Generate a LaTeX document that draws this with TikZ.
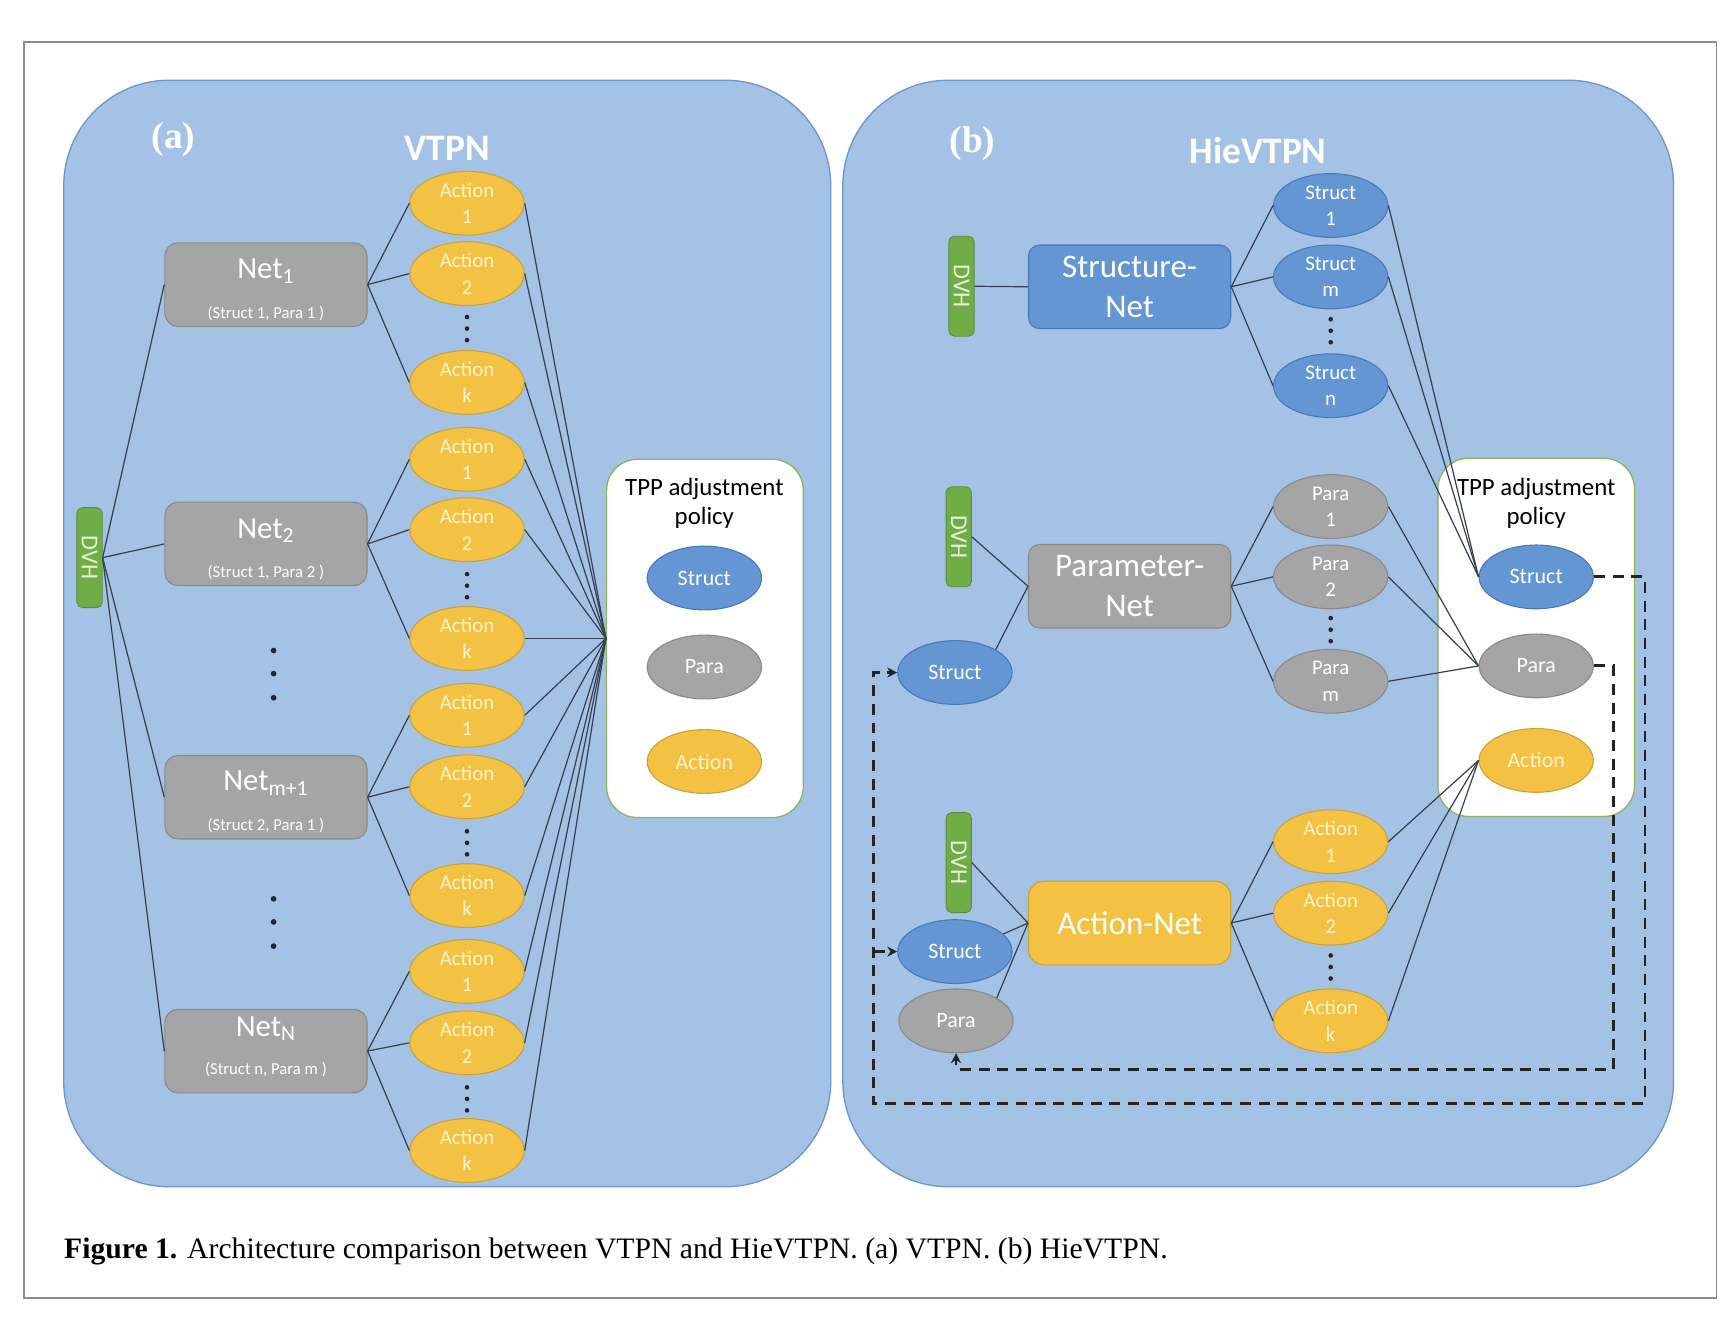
\documentclass[tikz,border=0pt]{standalone}
\usepackage{fontspec}
\setmainfont{Carlito}
\newfontfamily\capfont{Liberation Serif}
\usetikzlibrary{shapes.geometric,arrows.meta}
\definecolor{panelfill}{HTML}{A4C2E5}
\definecolor{paneldraw}{HTML}{6F96C8}
\definecolor{yelfill}{HTML}{F4C242}
\definecolor{yeldraw}{HTML}{C9A23A}
\definecolor{bluefill}{HTML}{6496D3}
\definecolor{bluedraw}{HTML}{4A7AB5}
\definecolor{grayfill}{HTML}{A5A5A5}
\definecolor{graydraw}{HTML}{8A8A8A}
\definecolor{grnfill}{HTML}{70AD47}
\definecolor{grndraw}{HTML}{5A8F38}
\definecolor{grntext}{HTML}{E6F2DC}
\definecolor{tppdraw}{HTML}{8DB55E}
\definecolor{linec}{HTML}{36404E}
\definecolor{dashc}{HTML}{232323}
\definecolor{framec}{HTML}{8C8C8C}
\definecolor{yeltext}{HTML}{FFF3CF}
\tikzset{
  ell/.style={ellipse, minimum width=52pt, minimum height=29pt, inner sep=0pt, line width=0.5pt, align=center, font=\fontsize{9.5}{12}\selectfont},
  yel/.style={ell, fill=yelfill, draw=yeldraw, text=yeltext},
  blu/.style={ell, fill=bluefill, draw=bluedraw, text=white},
  gry/.style={ell, fill=grayfill, draw=graydraw, text=white},
  big/.style={font=\fontsize{10}{12}\selectfont},
  netbox/.style={rectangle, rounded corners=6pt, minimum width=92pt, minimum height=38pt, fill=grayfill, draw=graydraw, line width=0.5pt},
  nettitle/.style={text=white, font=\fontsize{14}{16}\selectfont, inner sep=0pt},
  netsub/.style={text=white, font=\fontsize{7.6}{9}\selectfont, inner sep=0pt},
  bigbox/.style={rectangle, rounded corners=5pt, minimum width=92pt, minimum height=38pt, line width=0.5pt, text=white, align=center, font=\fontsize{15}{18}\selectfont},
  dvh/.style={rectangle, rotate=-90, rounded corners=2.5pt, minimum width=45.5pt, minimum height=11.5pt, inner sep=0pt, fill=grnfill, draw=grndraw, text=grntext, font=\fontsize{11}{12}\selectfont},
  panel/.style={rectangle, rounded corners=48pt, fill=panelfill, draw=paneldraw, line width=0.6pt},
  tppbox/.style={rectangle, rounded corners=14pt, fill=white, draw=tppdraw, line width=0.6pt, minimum width=89.5pt, minimum height=163pt},
  tpptitle/.style={align=center, font=\fontsize{11.3}{13.5}\selectfont, text=black},
  conn/.style={draw=linec, line width=0.55pt},
  fb/.style={draw=dashc, line width=1.3pt, dash pattern=on 5pt off 3.5pt},
  fbarrow/.style={fb, -{Stealth[length=4.5pt,width=4.5pt]}},
  ptitle/.style={text=white, font=\bfseries\fontsize{17}{19}\selectfont},
  plabel/.style={text=white, font=\capfont\bfseries\fontsize{17}{19}\selectfont},
}
\begin{document}
\begin{tikzpicture}[x=0.5pt,y=-0.5pt]
\useasboundingbox (0,0) rectangle (1568,1198);
\fill[white] (0,0) rectangle (1568,1198);
\draw[framec, line width=0.8pt] (22,38) rectangle (1562,1181);

% panels
\node[panel, minimum width=349pt, minimum height=503.5pt] (panA) at (407,576.5) {};
\node[panel, minimum width=378pt, minimum height=503.5pt] (panB) at (1145,576.5) {};
\node[plabel] (la) at (158,127) {(a)};
\node[ptitle] (ta) at (407,135) {VTPN};
\node[plabel] (lb) at (885,131) {(b)};
\node[ptitle] (tb) at (1145,137) {HieVTPN};

% ---------- panel (a) ----------
\node[dvh] (dvha) at (81.5,507.5) {DVH};
\node[netbox] (net1) at (242,259) {};
\node[nettitle] (net1t) at (242,247) {Net\textsubscript{1}};
\node[netsub] (net1s) at (242,285) {(Struct 1, Para 1 )};
\node[netbox] (net2) at (242,495) {};
\node[nettitle] (net2t) at (242,483) {Net\textsubscript{2}};
\node[netsub] (net2s) at (242,521) {(Struct 1, Para 2 )};
\node[netbox] (net3) at (242,725.5) {};
\node[nettitle] (net3t) at (242,713) {Net\textsubscript{m+1}};
\node[netsub] (net3s) at (242,751) {(Struct 2, Para 1 )};
\node[netbox] (net4) at (242,956.5) {};
\node[nettitle] (net4t) at (242,936) {Net\textsubscript{N}};
\node[netsub] (net4s) at (242,973) {(Struct n, Para m )};

\foreach \y in {592,613,635,818,839,861} \fill[black!85] (249,\y) circle (1.3pt);

\node[tppbox] (tppa) at (641.5,581) {};
\node[tpptitle] (tppat) at (641,458) {TPP adjustment\\policy};
\node[blu, big] (tas) at (641,526) {Struct};
\node[gry, big] (tap) at (641,607) {Para};
\node[yel, big] (taa) at (641,693) {Action};

\foreach \g/\ya/\yb/\yk/\yd in {1/185/249/348/299, 2/418/482/581/533, 3/651/716/815/767, 4/884/949/1047/1000}{
  \node[yel] (a\g-1) at (425,\ya) {Action\\1};
  \node[yel] (a\g-2) at (425,\yb) {Action\\2};
  \node[yel] (a\g-k) at (425,\yk) {Action\\k};
  \foreach \d in {-10.5,0,10.5} \fill[black!85] (425,\yd+\d) circle (1.05pt);
  \draw[conn] (dvha.north) -- (net\g.west);
  \foreach \s in {1,2,k}{
    \draw[conn] (net\g.east) -- (a\g-\s.west);
    \draw[conn] (a\g-\s.east) -- (tppa.west);
  }
}

% ---------- panel (b) ----------
\node[dvh] (dvh1) at (875,260.5) {DVH};
\node[dvh] (dvh2) at (872.5,488.5) {DVH};
\node[dvh] (dvh3) at (872.5,785) {DVH};
\node[bigbox, fill=bluefill, draw=bluedraw] (snet) at (1028,261) {Structure-\\Net};
\node[bigbox, fill=grayfill, draw=graydraw] (pnet) at (1028,533.5) {Parameter-\\Net};
\node[bigbox, fill=yelfill, draw=yeldraw, rounded corners=7pt] (anet) at (1028,840) {Action-Net};

\node[blu, big] (structP) at (869,612) {Struct};
\node[blu, big] (structA) at (869,866) {Struct};
\node[gry, big] (paraA) at (870,929) {Para};

\node[tppbox] (tppb) at (1398,580) {};
\node[tpptitle] (tppbt) at (1398,458) {TPP adjustment\\policy};
\node[blu, big] (tS) at (1398,525) {Struct};
\node[gry, big] (tP) at (1398,606) {Para};
\node[yel, big] (tA) at (1398,692) {Action};

\node[blu] (s1) at (1211,187) {Struct\\1};
\node[blu] (sm) at (1211,252) {Struct\\m};
\node[blu] (sn) at (1211,351) {Struct\\n};
\node[gry] (p1) at (1211,461) {Para\\1};
\node[gry] (p2) at (1211,525) {Para\\2};
\node[gry] (pm) at (1211,620) {Para\\m};
\node[yel] (b1) at (1211,766) {Action\\1};
\node[yel] (b2) at (1211,831) {Action\\2};
\node[yel] (bk) at (1211,929) {Action\\k};
\foreach \yd in {301,573,880} \foreach \d in {-10.5,0,10.5} \fill[black!85] (1211,\yd+\d) circle (1.05pt);

\draw[conn] (dvh1.north) -- (snet.west);
\draw[conn] (dvh2.north) -- (pnet.west);
\draw[conn] (structP.north east) -- (pnet.west);
\draw[conn] (dvh3.north) -- (anet.west);
\draw[conn] (structA.20) -- (anet.west);
\draw[conn] (paraA.north east) -- (anet.west);
\foreach \n in {s1,sm,sn}{\draw[conn] (snet.east) -- (\n.west); \draw[conn] (\n.east) -- (tS.west);}
\foreach \n in {p1,p2,pm}{\draw[conn] (pnet.east) -- (\n.west); \draw[conn] (\n.east) -- (tP.west);}
\foreach \n in {b1,b2,bk}{\draw[conn] (anet.east) -- (\n.west); \draw[conn] (\n.east) -- (tA.west);}

% feedback dashed lines
\coordinate (dR) at (1497,1004);
\coordinate (dL) at (795,1004);
\coordinate (pR) at (1468,973);
\draw[fbarrow] (tS.east) -| (dR) -- (dL) |- (structP.west);
\draw[fbarrow] (dL |- structA.west) -- (structA.west);
\draw[fbarrow] (tP.east) -| (pR) -| (paraA.south);

% caption
\node[anchor=base west, inner sep=0pt, font=\capfont\fontsize{13.5}{16}\selectfont] (cap) at (58,1145) {\textbf{Figure 1.} Architecture comparison between VTPN and HieVTPN. (a) VTPN. (b) HieVTPN.};
\end{tikzpicture}
\end{document}
